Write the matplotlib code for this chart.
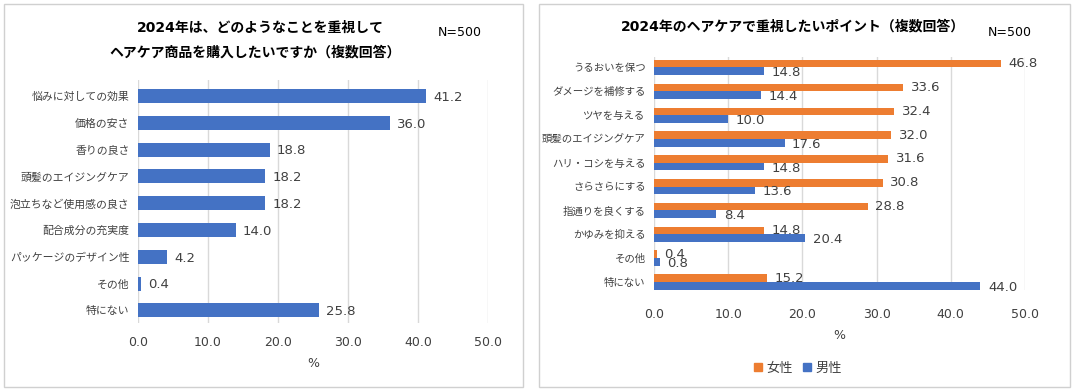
import numpy as np
import matplotlib.pyplot as plt
from matplotlib.patches import Rectangle, Patch

plt.rcParams['font.family'] = ['DejaVu Sans', 'Noto Sans CJK JP']

# left chart data
cats1 = ['悩みに対しての効果', '価格の安さ', '香りの良さ', '頭髪のエイジングケア',
         '泡立ちなど使用感の良さ', '配合成分の充実度', 'パッケージのデザイン性', 'その他', '特にない']
vals1 = [41.2, 36.0, 18.8, 18.2, 18.2, 14.0, 4.2, 0.4, 25.8]

# right chart data
cats2 = ['うるおいを保つ', 'ダメージを補修する', 'ツヤを与える', '頭髪のエイジングケア',
         'ハリ・コシを与える', 'さらさらにする', '指通りを良くする', 'かゆみを抑える', 'その他', '特にない']
female = [46.8, 33.6, 32.4, 32.0, 31.6, 30.8, 28.8, 14.8, 0.4, 15.2]
male = [14.8, 14.4, 10.0, 17.6, 14.8, 13.6, 8.4, 20.4, 0.8, 44.0]

xticks = [0, 10, 20, 30, 40, 50]

BLUE = '#4472C4'
ORANGE = '#ED7D31'
TXT = '#404040'
GRID = '#D9D9D9'

W, H = 1073, 392
fig = plt.figure(figsize=(W / 100, H / 100), dpi=100)

def box(x0, y0, x1, y1):
    return [x0 / W, 1 - y1 / H, (x1 - x0) / W, (y1 - y0) / H]

# panel frames
for x0, x1 in [(4, 523), (539, 1070)]:
    fig.patches.append(Rectangle((x0 / W, 5 / H), (x1 - x0) / W, 383 / H,
                                 transform=fig.transFigure, fill=False,
                                 edgecolor='#D0D0D0', lw=1))

def style(ax, ylab, pad):
    for s in ax.spines.values():
        s.set_visible(False)
    ax.set_xlim(0, 50)
    ax.set_xticks(xticks)
    ax.set_xticklabels([f'{v:.1f}' for v in xticks], fontsize=9, color=TXT)
    ax.tick_params(length=0, pad=pad)
    ax.tick_params(axis='y', labelsize=ylab, labelcolor=TXT, pad=6)
    ax.grid(axis='x', color=GRID, lw=1)
    ax.set_axisbelow(True)
    ax.set_xlabel('%', fontsize=9, color=TXT, labelpad=6)

# left chart
ax1 = fig.add_axes(box(138, 80, 488, 323))
y1 = np.arange(len(cats1))
ax1.barh(y1, vals1, height=0.52, color=BLUE)
for y, v in zip(y1, vals1):
    ax1.text(v + 1.0, y + 0.05, f'{v:.1f}', va='center', ha='left', fontsize=9.5, color=TXT)
ax1.set_yticks(y1)
ax1.set_yticklabels(cats1)
ax1.set_ylim(len(cats1) - 1 + 0.47, -0.6)
style(ax1, 7.8, 9)
fig.text(260 / W, 1 - 28 / H, '2024年は、どのようなことを重視して', ha='center', va='center',
         fontsize=10, fontweight='bold', color='black')
fig.text(255 / W, 1 - 53 / H, 'ヘアケア商品を購入したいですか（複数回答）', ha='center', va='center',
         fontsize=10, fontweight='bold', color='black')
fig.text(460 / W, 1 - 32 / H, 'N=500', ha='center', va='center', fontsize=9, color='black')

# right chart
ax2 = fig.add_axes(box(654, 57, 1025, 290))
y2 = np.arange(len(cats2))
bh = 0.32
ax2.barh(y2 - bh / 2, female, height=bh, color=ORANGE, label='女性')
ax2.barh(y2 + bh / 2, male, height=bh, color=BLUE, label='男性')
for y, v in zip(y2, female):
    ax2.text(v + 1.0, y - bh / 2, f'{v:.1f}', va='center', ha='left', fontsize=9.5, color=TXT)
for y, v in zip(y2, male):
    ax2.text(v + 1.0, y + bh / 2 + 0.06, f'{v:.1f}', va='center', ha='left', fontsize=9.5, color=TXT)
ax2.set_yticks(y2)
ax2.set_yticklabels(cats2)
ax2.set_ylim(len(cats2) - 1 + 0.34, -0.44)
style(ax2, 7.5, 13)
fig.text(793 / W, 1 - 27 / H, '2024年のヘアケアで重視したいポイント（複数回答）', ha='center', va='center',
         fontsize=10, fontweight='bold', color='black')
fig.text(1010 / W, 1 - 32 / H, 'N=500', ha='center', va='center', fontsize=9, color='black')

handles = [Patch(color=ORANGE, label='女性'), Patch(color=BLUE, label='男性')]
fig.legend(handles=handles, loc='center', bbox_to_anchor=(798 / W, 1 - 368 / H), ncol=2,
           frameon=False, fontsize=9.5, handlelength=0.6, handleheight=0.6,
           handletextpad=0.3, columnspacing=0.8, labelcolor=TXT)

fig.savefig('out.png', dpi=100)
